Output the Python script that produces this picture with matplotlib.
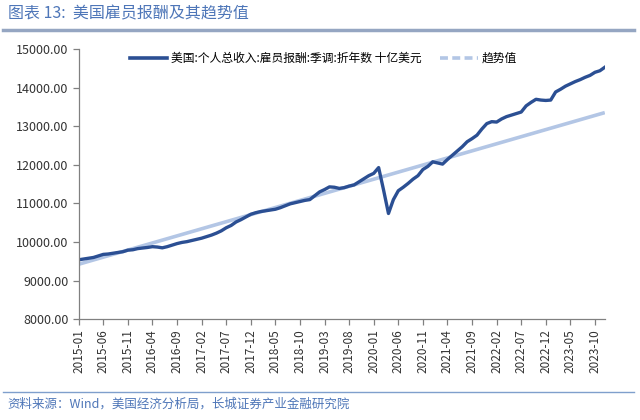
import matplotlib.pyplot as plt
from matplotlib.lines import Line2D
import pandas as pd

plt.rcParams['font.family'] = ['Noto Sans CJK SC', 'DejaVu Sans']

# monthly, 2015-01 .. 2023-12
months = pd.date_range('2015-01-01', '2023-12-01', freq='MS').strftime('%Y-%m').tolist()
comp = [
    9540, 9560, 9580, 9600, 9640, 9680, 9690, 9710, 9730, 9750, 9790, 9800,          # 2015
    9830, 9845, 9860, 9880, 9870, 9850, 9880, 9920, 9960, 9990, 10010, 10040,        # 2016
    10070, 10100, 10140, 10180, 10230, 10290, 10370, 10430, 10520, 10580, 10650, 10720,  # 2017
    10760, 10790, 10810, 10830, 10850, 10890, 10940, 10990, 11020, 11050, 11080, 11100,  # 2018
    11200, 11300, 11360, 11430, 11420, 11390, 11410, 11450, 11480, 11560, 11640, 11720,  # 2019
    11780, 11930, 11350, 10740, 11100, 11330, 11420, 11520, 11630, 11720, 11880, 11960,  # 2020
    12080, 12050, 12020, 12140, 12250, 12360, 12470, 12600, 12680, 12770, 12930, 13070,  # 2021
    13120, 13110, 13190, 13250, 13290, 13330, 13370, 13530, 13620, 13700, 13680, 13670,  # 2022
    13680, 13890, 13960, 14040, 14100, 14160, 14210, 14270, 14320, 14400, 14440, 14530,  # 2023
]
trend_start, trend_end = 9425, 13355
yticks = [8000, 9000, 10000, 11000, 12000, 13000, 14000, 15000]

label_comp = '美国:个人总收入:雇员报酬:季调:折年数 十亿美元'
label_trend = '趋势值'

dark = '#2B4F93'
light = '#B3C6E5'

fig = plt.figure(figsize=(6.4, 4.2), dpi=100)
ax = fig.add_axes([0.123, 0.240, 0.822, 0.643])

x = list(range(len(months)))
ax.plot([x[0], x[-1]], [trend_start, trend_end], color=light, lw=2.6, solid_capstyle='butt')
ax.plot(x, comp, color=dark, lw=2.4, solid_joinstyle='round')

ax.set_xlim(0, len(months) - 1)
ax.set_ylim(8000, 15000)
ax.set_yticks(yticks)
ax.set_yticklabels([f'{v:.2f}' for v in yticks], fontsize=9, color='#333333')
ax.set_xticks(x[::5])
ax.set_xticklabels(months[::5], rotation=90, fontsize=8.5, color='#333333')

for s in ['top', 'right']:
    ax.spines[s].set_visible(False)
for s in ['left', 'bottom']:
    ax.spines[s].set_color('#808080')
    ax.spines[s].set_linewidth(0.9)
ax.tick_params(axis='both', direction='out', length=4, color='#808080', width=0.9)
ax.tick_params(axis='x', pad=3)

handles = [Line2D([], [], color=dark, lw=2.6),
           Line2D([], [], color=light, lw=2.6, dashes=(2.2, 1.2))]
ax.legend(handles, [label_comp, label_trend], loc='upper center',
          bbox_to_anchor=(0.465, 1.03), ncol=2, frameon=False, fontsize=8.5,
          handlelength=3.2, handletextpad=0.3, columnspacing=1.6)

# header / footer
fig.text(0.012, 0.967, '图表 13:  美国雇员报酬及其趋势值', fontsize=11.5,
         color='#4E76B8', va='center', ha='left')
fig.add_artist(Line2D([0.005, 0.99], [0.928, 0.928], color='#95A6C2', lw=2.5))
fig.add_artist(Line2D([0.005, 0.99], [0.067, 0.067], color='#7F9FCC', lw=1.0))
fig.text(0.012, 0.038, '资料来源：Wind，美国经济分析局，长城证券产业金融研究院',
         fontsize=9, color='#4E76B8', va='center', ha='left')

fig.savefig('out.png', dpi=100)
